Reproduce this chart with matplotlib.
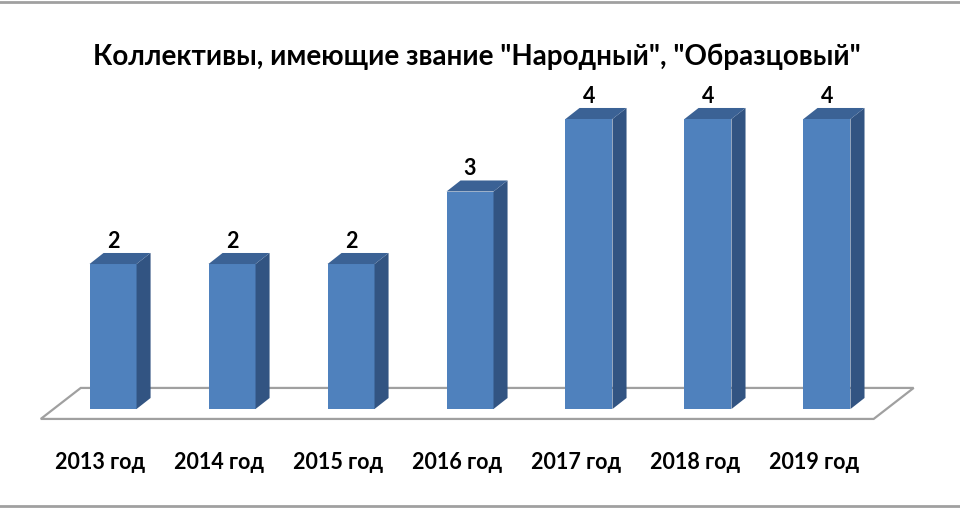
import matplotlib
matplotlib.use("Agg")
import matplotlib.pyplot as plt
from matplotlib.patches import Polygon

# data
years = ["2013 год", "2014 год", "2015 год", "2016 год", "2017 год", "2018 год", "2019 год"]
counts = [2, 2, 2, 3, 4, 4, 4]
title = 'Коллективы, имеющие звание "Народный", "Образцовый"'

FRONT = "#4F81BD"
SIDE = "#325482"
TOP = "#3B6295"
FLOOR_EDGE = "#A0A0A0"

plt.rcParams["font.family"] = ["Lato", "DejaVu Sans"]

fig = plt.figure(figsize=(9.6, 5.1), dpi=100)
ax = fig.add_axes([0, 0, 1, 1])
# axis limits chosen so the plot area lands where the reference has it
ax.set_xlim(-0.95, 7.118)
ax.set_ylim(-1.379, 5.655)
ax.axis("off")

w = 0.395          # bar width in category units
ddx, ddy = 0.118, 0.152   # oblique depth offset of the bars

# floor (parallelogram), depth shift 40px / 31px over its whole depth
fdx, fdy = 40 / 119, 31 / 72.5
f0 = 0.32  # fraction of floor depth where the bar fronts stand
fx0, fx1 = -0.5 - f0 * fdx, len(years) - 0.5 - f0 * fdx
fy0 = -f0 * fdy
floor = Polygon([(fx0, fy0), (fx1, fy0), (fx1 + fdx, fy0 + fdy), (fx0 + fdx, fy0 + fdy)],
                closed=True, facecolor="white", edgecolor=FLOOR_EDGE, lw=1.6, zorder=1)
ax.add_patch(floor)

for i, v in enumerate(counts):
    x0, x1 = i - w / 2, i + w / 2
    ax.bar(i, v, width=w, color=FRONT, zorder=3)
    side = Polygon([(x1, 0), (x1 + ddx, ddy), (x1 + ddx, v + ddy), (x1, v)],
                   closed=True, facecolor=SIDE, edgecolor="none", zorder=3)
    top = Polygon([(x0, v), (x1, v), (x1 + ddx, v + ddy), (x0 + ddx, v + ddy)],
                  closed=True, facecolor=TOP, edgecolor="none", zorder=3)
    ax.add_patch(side)
    ax.add_patch(top)
    ax.text(i, v + 0.33, str(v), ha="center", va="center",
            fontsize=15.5, fontweight="bold", color="black")
    ax.text(i - f0 * fdx, -0.72, years[i], ha="center", va="center",
            fontsize=15.5, fontweight="bold", color="black")

fig.text(0.497, 0.888, title, ha="center", va="center",
         fontsize=20, fontweight="bold", color="black")

# thin grey frame lines at top and bottom like the original slide
fig.add_artist(plt.Line2D([0, 1], [0.995, 0.995], color="#A0A0A0", lw=2))
fig.add_artist(plt.Line2D([0, 1], [0.005, 0.005], color="#A0A0A0", lw=2))

fig.savefig("out.png", dpi=100)
